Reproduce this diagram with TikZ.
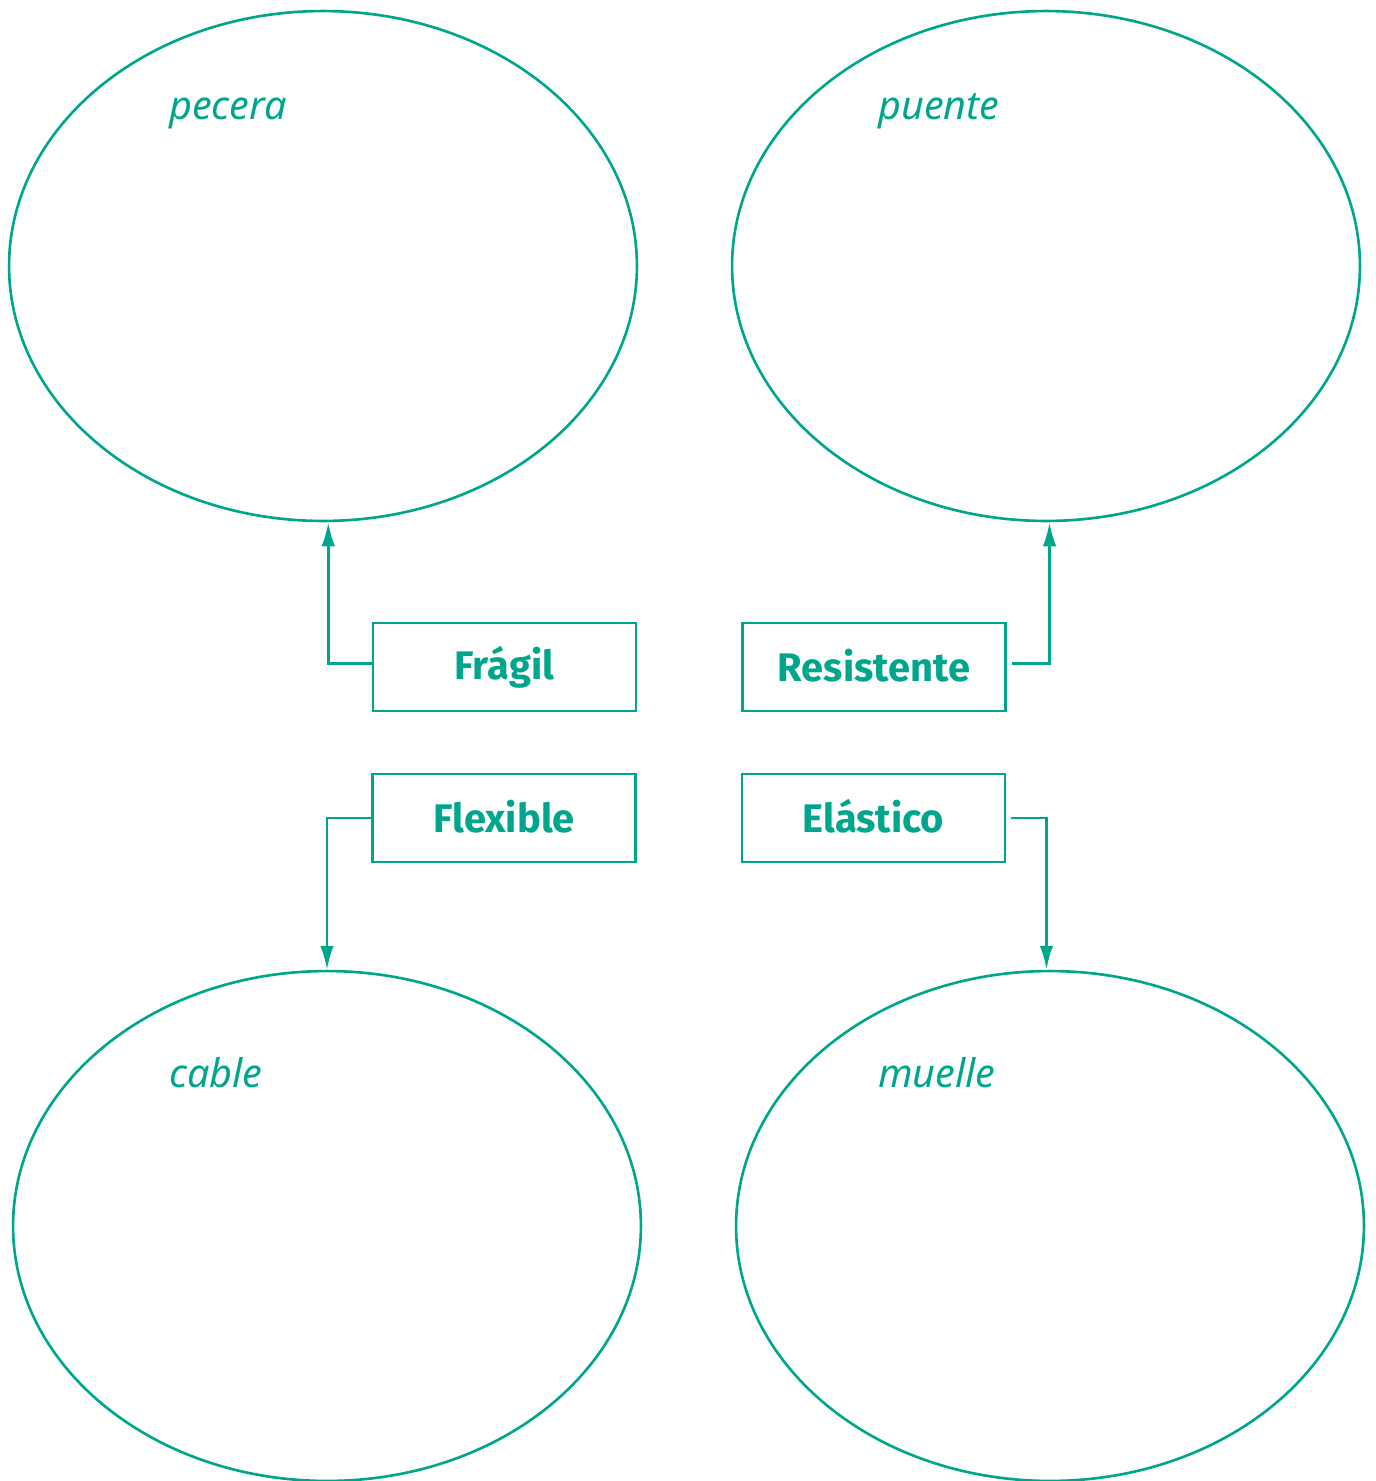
\documentclass[tikz,border=0pt]{standalone}
\usepackage{fontspec}
\setmainfont{Noto Sans}
\newfontfamily\negrita{Fira Sans}
\usetikzlibrary{shapes.geometric,arrows.meta}
\definecolor{verde}{RGB}{0,166,140}

\begin{document}
\begin{tikzpicture}[x=0.02cm,y=-0.02cm,line width=1.5pt,color=verde,
        circulo/.style={ellipse,draw,inner sep=0pt,minimum width=12.56cm,minimum height=10.2cm},
        caja/.style={rectangle,draw,inner sep=0pt,minimum width=5.26cm,minimum height=1.76cm,font=\negrita\fontsize{22.7}{27}\selectfont\bfseries},
        nombre/.style={anchor=base west,inner sep=0pt,font=\fontsize{22.5}{27}\selectfont\itshape},
        flecha/.style={-{Latex[length=0.48cm,width=0.27cm]}}]
        \useasboundingbox (0,0) rectangle (1376,1481);
        \draw (323,266)   node[circulo] (pecera) {};
        \draw (1046,266)  node[circulo] (puente) {};
        \draw (327,1226)  node[circulo] (cable) {};
        \draw (1050,1226) node[circulo] (muelle) {};
        \node[nombre] at (168,119)  {pecera};
        \node[nombre] at (877,119)  {puente};
        \node[nombre] at (168,1087) {cable};
        \node[nombre] at (877,1087) {muelle};
        \draw (504.5,667) node[caja] (fragil) {\raisebox{2pt}{Frágil}};
        \draw (874,667)   node[caja] (resistente) {\raisebox{2pt}{Resistente}};
        \draw (504,818)   node[caja] (flexible) {\raisebox{2pt}{Flexible}};
        \draw (873.5,818) node[caja] (elastico) {\raisebox{2pt}{Elástico}};
        \draw[flecha] ([yshift=2]fragil.west) -| ([xshift=3]pecera.south);
        \draw[flecha,shorten <=0.1cm] ([yshift=2]resistente.east) -| ([xshift=2]puente.south);
        \draw[flecha] (flexible.west) -| (cable.north);
        \draw[flecha,shorten <=0.1cm] (elastico.east) -| ([xshift=-2]muelle.north);
\end{tikzpicture}
\end{document}
